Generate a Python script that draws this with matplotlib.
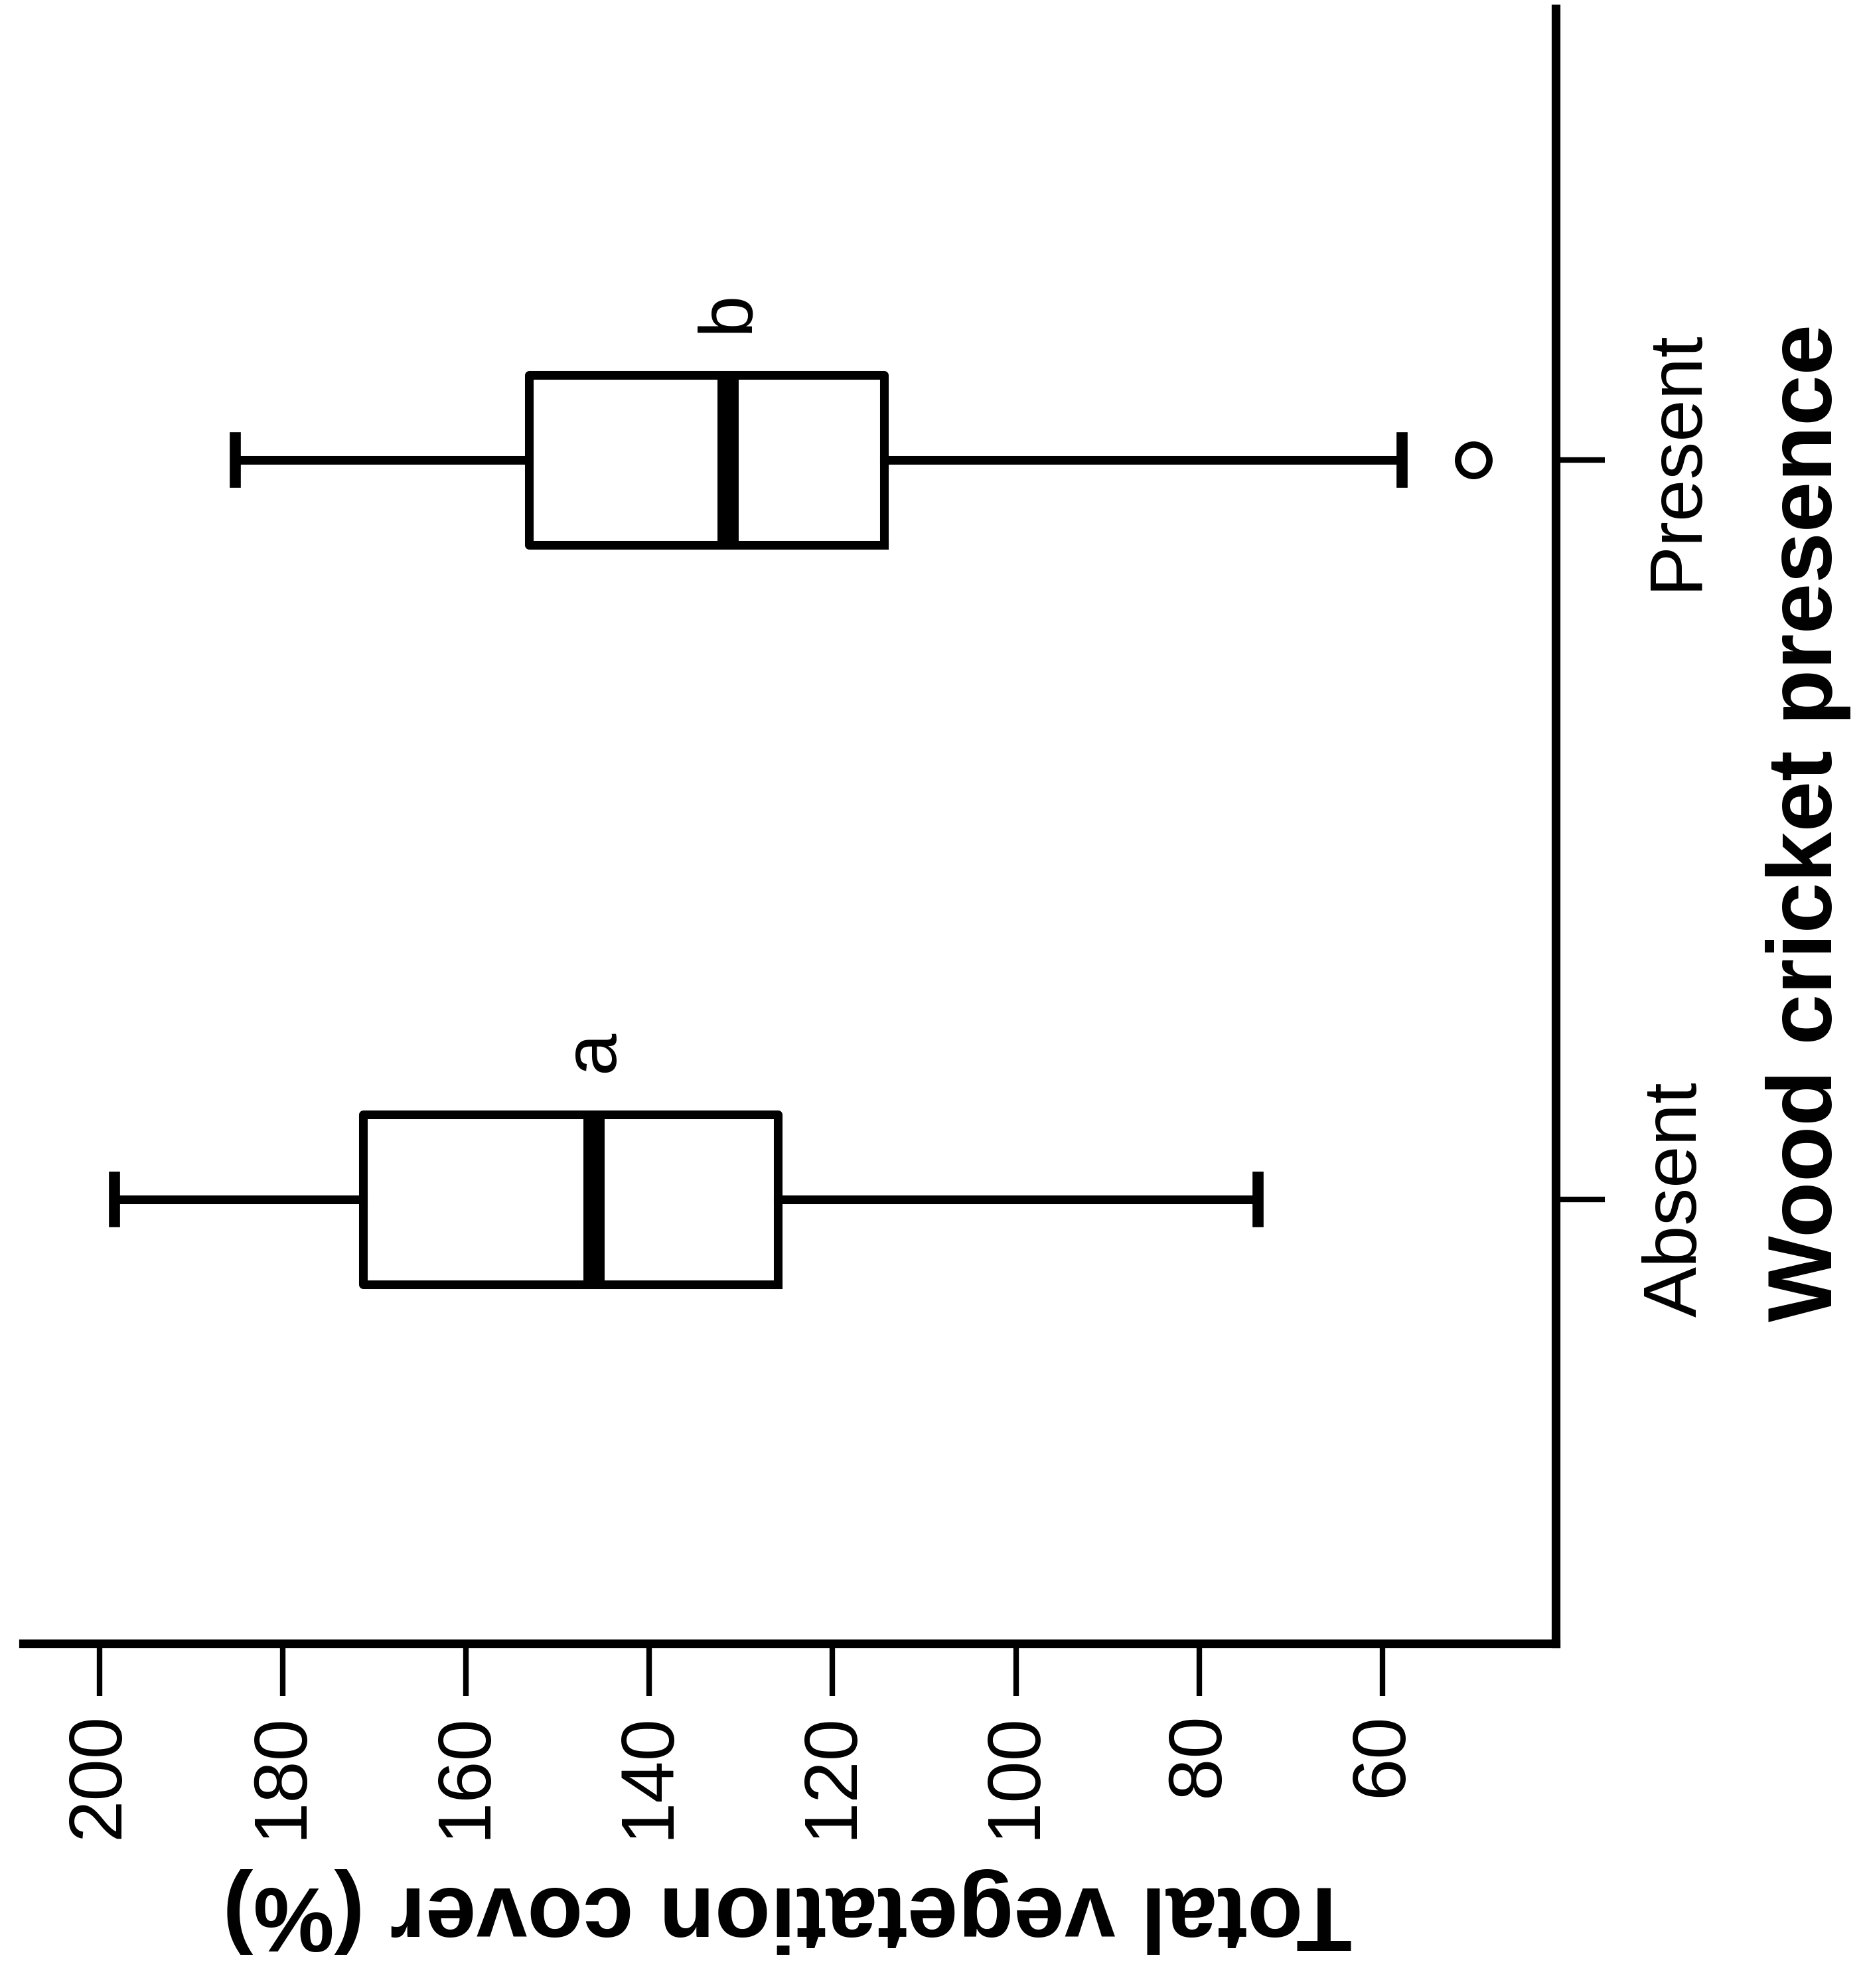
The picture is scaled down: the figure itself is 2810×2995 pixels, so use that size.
import matplotlib.pyplot as plt

groups = ["Absent", "Present"]
whisker_high = [198.4, 185.2]
box_q3 = [171.2, 153.1]
medians = [146.0, 131.4]
box_q1 = [126.0, 114.4]
whisker_low = [73.6, 57.9]
outliers = [[], [50.1]]
letters = ["a", "b"]
value_ticks = [60, 80, 100, 120, 140, 160, 180, 200]

plt.rcParams["font.family"] = ["Liberation Sans", "DejaVu Sans"]

fig = plt.figure(figsize=(28.1, 29.95), dpi=100)
ax = fig.add_axes([0.01246, 0.17329, 0.82171, 0.82237])

positions = [1, 2]
stats = []
for g, hi, q3, med, q1, lo, fl in zip(groups, whisker_high, box_q3, medians,
                                       box_q1, whisker_low, outliers):
    stats.append(dict(label=g, whishi=hi, q3=q3, med=med, q1=q1,
                      whislo=lo, fliers=fl))

ax.bxp(
    stats,
    positions=positions,
    widths=0.23,
    capwidths=0.06,
    orientation="horizontal",
    showfliers=True,
    boxprops=dict(color="black", linewidth=9.4),
    whiskerprops=dict(color="black", linewidth=9.4),
    capprops=dict(color="black", linewidth=12),
    medianprops=dict(color="black", linewidth=23, solid_capstyle="butt"),
    flierprops=dict(marker="o", markersize=34, markerfacecolor="white",
                    markeredgecolor="black", markeredgewidth=7),
)

# significance letters next to each median
for pos, med, let in zip(positions, medians, letters):
    ax.text(med, pos + 0.2, let, rotation=90, ha="center", va="center",
            fontsize=82)

ax.set_xlim(208.3, 41.1)
ax.set_ylim(0.3995, 2.61)

ax.set_xticks(value_ticks)
ax.set_xticklabels([str(v) for v in value_ticks], rotation=90)
ax.tick_params(axis="x", direction="out", length=57, width=6,
               labelsize=82, pad=18)

ax.yaxis.tick_right()
ax.set_yticks(positions)
ax.set_yticklabels(groups, rotation=90, va="center")
ax.tick_params(axis="y", direction="out", length=53, width=6,
               labelsize=82, pad=40)

for side in ["top", "left"]:
    ax.spines[side].set_visible(False)
for side in ["bottom", "right"]:
    ax.spines[side].set_linewidth(9.5)

fig.text(0.422, 0.039, "Total vegetation cover (%)", rotation=180,
         ha="center", va="center", fontsize=99, fontweight="bold")
fig.text(0.9694, 0.586, "Wood cricket presence", rotation=90,
         ha="center", va="center", fontsize=99, fontweight="bold")

fig.savefig("out.png", dpi=100, facecolor="white")
plt.close(fig)
